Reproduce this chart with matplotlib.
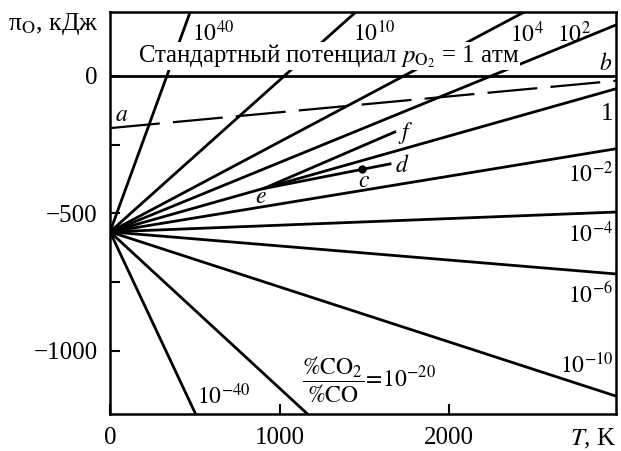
import matplotlib
matplotlib.use('Agg')
import matplotlib.pyplot as plt

plt.rcParams['font.family'] = ['Liberation Serif', 'DejaVu Serif']
plt.rcParams['mathtext.fontset'] = 'stix'
plt.rcParams['lines.scale_dashes'] = False

# common point where all CO2/CO lines start
T0, P0 = 0, -567

# exit point of each line from the frame
ratio_labels = ['40', '10', '4', '2', '0', '-2', '-4', '-6', '-10', '-20', '-40']
T_end = [473, 1450, 2444, 2985, 2985, 2985, 2985, 2985, 2985, 1165, 505]
P_end = [232, 232, 232, 185, -47, -265, -495, -720, -1164, -1229, -1229]

# dashed line a-b
T_ab = [0, 2985]
P_ab = [-190, -18]

# short segments from point e
T_e, P_e = 905, -410
T_f, P_f = 1680, -204
T_d, P_d = 1652, -320
T_c, P_c = 1487, -338

LW = 2.0

fig = plt.figure(figsize=(6.21, 4.51), dpi=100)
ax = fig.add_axes([110/621, 1 - 414/451, 506/621, 402/451])
ax.set_xlim(0, 2985)
ax.set_ylim(-1229, 232)

for te, pe in zip(T_end, P_end):
    ax.plot([T0, te], [P0, pe], color='black', lw=LW, solid_capstyle='butt', zorder=2)

ax.axhline(0, color='black', lw=LW, zorder=2)
ax.plot(T_ab, P_ab, color='black', lw=1.6, dashes=(36, 9.5), zorder=2)

ax.plot([T_e, T_f], [P_e, P_f], color='black', lw=LW, zorder=2)
ax.plot([T_e, T_d], [P_e, P_d], color='black', lw=LW, zorder=2)
ax.plot([T_c], [P_c], 'o', color='black', ms=5, zorder=3)

fs = 17
ax.text(168, 50, 'Стандартный потенциал $p_{\\mathrm{O_2}}$ = 1 атм', fontsize=17.8,
        ha='left', va='baseline', zorder=4,
        bbox=dict(facecolor='white', edgecolor='none', pad=0.0))

# line labels
ax.text(484, 126, '$10^{40}$', fontsize=fs, ha='left', va='baseline')
ax.text(1434, 126, '$10^{10}$', fontsize=fs, ha='left', va='baseline')
ax.text(2360, 124, '$10^{4}$', fontsize=fs, ha='left', va='baseline')
ax.text(2637, 124, '$10^{2}$', fontsize=fs, ha='left', va='baseline')
ax.text(2968, -160, '1', fontsize=18, ha='right', va='baseline')
ax.text(2968, -385, '$10^{-2}$', fontsize=fs, ha='right', va='baseline')
ax.text(2968, -604, '$10^{-4}$', fontsize=fs, ha='right', va='baseline')
ax.text(2968, -825, '$10^{-6}$', fontsize=fs, ha='right', va='baseline')
ax.text(2968, -1080, '$10^{-10}$', fontsize=fs, ha='right', va='baseline')
ax.text(513, -1193, '$10^{-40}$', fontsize=fs, ha='left', va='baseline')
ax.text(1133, -1105, r'$\dfrac{\%\mathrm{CO_2}}{\%\mathrm{CO}}\!=\!10^{-20}$',
        fontsize=fs, ha='left', va='center')

# point letters
ax.text(2962, 22, '$b$', fontsize=fs, ha='right', va='baseline')
ax.text(30, -164, '$a$', fontsize=fs, ha='left', va='baseline')
ax.text(855, -462, '$e$', fontsize=fs, ha='left', va='baseline')
ax.text(1700, -228, '$f$', fontsize=fs, ha='left', va='baseline')
ax.text(1681, -349, '$d$', fontsize=fs, ha='left', va='baseline')
ax.text(1463, -404, '$c$', fontsize=fs, ha='left', va='baseline')

ax.set_xticks([0, 1000, 2000])
ax.set_yticks([0, -500, -1000])
ax.set_yticklabels(['0', '\u2212500', '\u22121000'])
ax.set_yticks([-250, -750], minor=True)
ax.tick_params(direction='in', length=7, width=1.5, labelsize=18, pad=9)
ax.tick_params(which='minor', direction='in', length=7, width=1.5)
for s in ax.spines.values():
    s.set_linewidth(1.8)

ax.text(1.0, -0.077, '$T$, K', transform=ax.transAxes, fontsize=18,
        ha='right', va='baseline')
fig.text(8/621, 1 - 30/451, 'π$_\\mathrm{O}$, кДж', fontsize=18.5, ha='left', va='baseline')

fig.savefig('out.png', dpi=100)
